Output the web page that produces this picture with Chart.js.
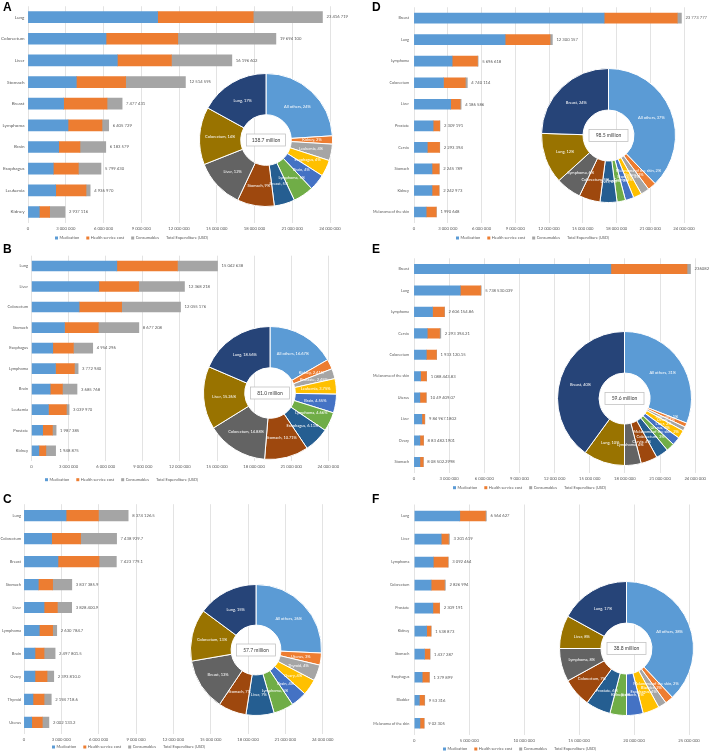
<!DOCTYPE html>
<html>
<head>
<meta charset="utf-8">
<script src="https://cdn.jsdelivr.net/npm/chart.js@4.4.1/dist/chart.umd.min.js"></script>
<style>
  body { margin: 0; background: #fff; }
  #page { position: relative; width: 709px; height: 752px; overflow: hidden; }
  #page canvas { position: absolute; }
  .tag { position: absolute; font: bold 12px 'Liberation Sans', Arial, sans-serif; color: #000; line-height: 12px; }
</style>
</head>
<body>
<div id="page"></div>
<script>
// values in million USD, bars listed top to bottom
const catA = ['Lung', 'Colorectum', 'Liver', 'Stomach', 'Breast', 'Lymphoma', 'Brain', 'Esophagus', 'Leukemia', 'Kidney'];
const medA = [10.3, 6.2, 7.1, 3.84, 2.83, 3.18, 2.44, 2.01, 2.2, 0.9];
const hsA  = [7.6, 5.7, 4.3, 3.92, 3.45, 2.7, 1.69, 1.99, 2.41, 0.82];
const conA = [5.5, 7.8, 4.8, 4.75, 1.2, 0.53, 2.05, 1.8, 0.33, 1.22];
const totA = ['23 416 719', '19 694 100', '16 196 602', '12 514 595', '7 477 431', '6 405 729', '6 183 579', '5 799 430', '4 936 970', '2 937 116'];
const pieA = [24, 2, 4, 4, 4, 5, 5, 9, 12, 14, 17];

const catB = ['Lung', 'Liver', 'Colorectum', 'Stomach', 'Esophagus', 'Lymphoma', 'Brain', 'Leukemia', 'Prostate', 'Kidney'];
const medB = [6.9, 5.44, 3.85, 2.67, 1.72, 1.94, 1.51, 1.37, 0.9, 0.6];
const hsB  = [4.9, 3.22, 3.44, 2.73, 1.67, 1.53, 0.99, 1.45, 0.79, 0.56];
const conB = [3.24, 3.71, 4.76, 3.28, 1.56, 0.3, 1.18, 0.22, 0.3, 0.79];
const totB = ['15 042 638', '12 368 218', '12 055 176', '8 677 208', '4 954 296', '3 772 940', '3 685 768', '3 039 970', '1 987 385', '1 948 875'];
const pieB = [16.67, 2.41, 2.45, 3.75, 4.55, 4.66, 6.11, 10.71, 14.88, 15.26, 18.56];

const catC = ['Lung', 'Colorectum', 'Breast', 'Stomach', 'Liver', 'Lymphoma', 'Brain', 'Ovary', 'Thyroid', 'Uterus'];
const medC = [3.38, 2.22, 2.73, 1.15, 1.61, 1.23, 0.88, 0.88, 0.72, 0.62];
const hsC  = [2.6, 2.33, 3.3, 1.15, 1.07, 1.07, 0.73, 0.97, 0.89, 0.85];
const conC = [2.39, 2.89, 1.39, 1.54, 1.15, 0.33, 0.89, 0.54, 0.58, 0.53];
const totC = ['8 374 126.5', '7 438 929.7', '7 423 779.1', '3 837 385.9', '3 828 400.9', '2 630 784.7', '2 497 801.5', '2 393 810.0', '2 194 718.6', '2 002 133.2'];
const pieC = [26, 3, 4, 4, 4, 5, 7, 7, 13, 13, 15];

const catD = ['Breast', 'Lung', 'Lymphoma', 'Colorectum', 'Liver', 'Prostate', 'Cervix', 'Stomach', 'Kidney', 'Melanoma of the skin'];
const medD = [16.9, 8.1, 3.39, 2.62, 3.26, 1.7, 1.18, 1.6, 1.6, 1.08];
const hsD  = [6.5, 3.99, 2.25, 1.94, 0.84, 0.58, 1.09, 0.63, 0.62, 0.89];
const conD = [0.37, 0.21, 0.06, 0.18, 0.09, 0.03, 0.02, 0.02, 0.02, 0.02];
const totD = ['23 773 777', '12 300 157', '5 696 618', '4 740 114', '4 186 586', '2 309 191', '2 293 394', '2 245 789', '2 242 973', '1 990 648'];
const pieD = [37, 2, 2, 2, 2, 2, 4, 5, 6, 12, 24];

const catE = ['Breast', 'Lung', 'Lymphoma', 'Cervix', 'Colorectum', 'Melanoma of the skin', 'Uterus', 'Liver', 'Ovary', 'Stomach'];
const medE = [16.8, 3.95, 1.58, 1.13, 1.05, 0.56, 0.5, 0.67, 0.5, 0.5];
const hsE  = [6.5, 1.73, 1.0, 1.05, 0.86, 0.5, 0.53, 0.23, 0.3, 0.28];
const conE = [0.3, 0.06, 0.03, 0.11, 0.02, 0.02, 0.02, 0.03, 0.02, 0.02];
const totE = ['23608287084', '5 738 530.039', '2 606 154.86', '2 293 394.21', '1 933 120.15', '1 088 443.83', '10 49 409.07', '9 84 967.1802', '8 83 482.1901', '8 08 502.2998'];
const pieE = [31, 1, 1, 2, 2, 2, 3, 4, 4, 10, 40];

const catF = ['Lung', 'Liver', 'Lymphoma', 'Colorectum', 'Prostate', 'Kidney', 'Stomach', 'Esophagus', 'Bladder', 'Melanoma of the skin'];
const medF = [4.14, 2.45, 1.73, 1.53, 1.69, 1.12, 0.93, 0.72, 0.46, 0.51];
const hsF  = [2.33, 0.66, 1.33, 1.21, 0.6, 0.39, 0.48, 0.63, 0.45, 0.37];
const conF = [0.09, 0.09, 0.03, 0.09, 0.02, 0.03, 0.03, 0.03, 0.04, 0.02];
const totF = ['6 564 627', '3 201 619', '3 092 464', '2 826 994', '2 309 191', '1 538 873', '1 437 287', '1 379 899', '9 53 316', '9 02 305'];
const pieF = [38, 2, 2, 4, 4, 4, 6, 7, 8, 8, 17];

const centreText = ['138.7 million', '81.0 million', '57.7 million', '98.5 million', '59.6 million', '38.8 million'];
const seriesNames = ['Medication', 'Health service cost', 'Consumables'];
const totalName = 'Total Expenditure (USD)';

const FONT = "Lato, 'Liberation Sans', sans-serif";
const TXT = '#595959';
const BAR_COLORS = ['#5B9BD5', '#ED7D31', '#A5A5A5'];
const PIE_COLORS = ['#5B9BD5', '#ED7D31', '#A5A5A5', '#FFC000', '#4472C4', '#70AD47',
                    '#255E91', '#9E480E', '#636363', '#997300', '#264478'];

Chart.defaults.font.family = FONT;

// geometry in page pixels: box [x, y, w, h], plot [left, right, top, bottom]
const panels = [
  { id: 'A', cats: catA, series: [medA, hsA, conA], tot: totA, pie: pieA, dec: 0, centre: centreText[0],
    box: [0, 0, 354, 245], plot: [28, 330, 6.2, 222.8], bar: 11, max: 24, step: 3, catSize: 4.6, catPad: 3.5,
    leg: [55, 238], ring: [266, 140, 66], tag: [3, 1] },
  { id: 'B', cats: catB, series: [medB, hsB, conB], tot: totB, pie: pieB, dec: 2, centre: centreText[1],
    box: [0, 245, 354, 247], plot: [31.5, 328.3, 255.7, 461], bar: 10, max: 24, step: 3, catSize: 4, catPad: 3.5,
    leg: [45, 479.7], ring: [269.5, 392.5, 66], tag: [3, 243] },
  { id: 'C', cats: catC, series: [medC, hsC, conC], tot: totC, pie: pieC, dec: 0, centre: centreText[2],
    box: [0, 492, 354, 260], plot: [24, 322.7, 504.2, 733.8], bar: 10.5, max: 24, step: 3, catSize: 4, catPad: 3,
    leg: [52, 747], ring: [256, 650, 65], tag: [3, 493] },
  { id: 'D', cats: catD, series: [medD, hsD, conD], tot: totD, pie: pieD, dec: 0, centre: centreText[3],
    box: [354, 0, 355, 245], plot: [414, 684, 6.5, 222.8], bar: 10, max: 24, step: 3, catSize: 3.8, catPad: 5,
    leg: [456, 238], ring: [608.3, 135.5, 66.7], tag: [372, 1] },
  { id: 'E', cats: catE, series: [medE, hsE, conE], tot: totE, pie: pieE, dec: 0, centre: centreText[4],
    box: [354, 245, 355, 247], plot: [414, 700.7, 258.3, 472.7], bar: 9.5, max: 24, step: 3, catSize: 3.8, catPad: 5,
    leg: [453, 487.7], ring: [624.3, 398.3, 66.5], tag: [372, 243] },
  { id: 'F', cats: catF, series: [medF, hsF, conF], tot: totF, pie: pieF, dec: 0, centre: centreText[5],
    box: [354, 492, 355, 260], plot: [414.3, 689, 504.5, 734.8], bar: 10, max: 25, step: 5, catSize: 3.8, catPad: 5,
    leg: [443, 749], ring: [626.3, 647.8, 66.3], tag: [372, 493] }
];

const page = document.getElementById('page');

function addCanvas(x, y, w, h) {
  const c = document.createElement('canvas');
  c.width = Math.round(w);
  c.height = Math.round(h);
  c.style.left = Math.round(x) + 'px';
  c.style.top = Math.round(y) + 'px';
  page.appendChild(c);
  return c;
}

function fmt(n) {
  return Math.round(n).toLocaleString('en-US').replace(/,/g, ' ');
}

function makeBar(p) {
  const [bx, by, bw, bh] = p.box;
  const [pl, pr, pt, pb] = p.plot;
  const xH = 10;
  const canvas = addCanvas(bx, by, bw, bh);

  const totalsPlugin = {
    id: 'totals',
    afterDatasetsDraw(chart) {
      const ctx = chart.ctx;
      const meta = chart.getDatasetMeta(2);
      ctx.save();
      ctx.font = `4.2px ${FONT}`;
      ctx.fillStyle = TXT;
      ctx.textBaseline = 'middle';
      meta.data.forEach((el, i) => ctx.fillText(p.tot[i], el.x + 4, el.y));
      ctx.restore();
    }
  };

  const legendPlugin = {
    id: 'legendRow',
    afterDraw(chart) {
      const ctx = chart.ctx;
      let x = p.leg[0] - bx;
      const y = p.leg[1] - by;
      ctx.save();
      ctx.font = `4px ${FONT}`;
      ctx.textBaseline = 'middle';
      seriesNames.concat([totalName]).forEach((name, i) => {
        if (i < 3) {
          ctx.fillStyle = BAR_COLORS[i];
          ctx.fillRect(x, y - 1.5, 3, 3);
          x += 4.5;
        }
        ctx.fillStyle = TXT;
        ctx.fillText(name, x, y);
        x += ctx.measureText(name).width + 7;
      });
      ctx.restore();
    }
  };

  return new Chart(canvas.getContext('2d'), {
    type: 'bar',
    data: {
      labels: p.cats,
      datasets: p.series.map((d, i) => ({
        label: seriesNames[i],
        data: d,
        backgroundColor: BAR_COLORS[i],
        borderWidth: 0,
        barThickness: p.bar
      }))
    },
    options: {
      indexAxis: 'y',
      responsive: false,
      animation: false,
      layout: { padding: { left: 0, right: bw - (pr - bx), top: pt - by, bottom: bh - (pb - by) - xH } },
      plugins: { legend: { display: false }, tooltip: { enabled: false } },
      scales: {
        x: {
          stacked: true, min: 0, max: p.max,
          grid: { color: '#D9D9D9', lineWidth: 0.75, drawTicks: false },
          border: { display: false },
          ticks: {
            stepSize: p.step, autoSkip: false, maxRotation: 0, padding: 3,
            color: TXT, font: { size: 4.2 },
            callback: v => fmt(v * 1e6)
          },
          afterFit: s => { s.height = xH; }
        },
        y: {
          stacked: true,
          grid: { display: false, drawTicks: false },
          border: { display: false },
          ticks: { color: TXT, font: { size: p.catSize }, padding: p.catPad, autoSkip: false },
          afterFit: s => { s.width = pl - bx; }
        }
      }
    },
    plugins: [totalsPlugin, legendPlugin]
  });
}

function makeRing(p) {
  const [cx, cy, r] = p.ring;
  const size = 2 * r + 2;
  const canvas = addCanvas(cx - size / 2, cy - size / 2, size, size);
  const labels = ['All others'].concat(p.cats.slice().reverse());

  const sliceLabels = {
    id: 'sliceLabels',
    afterDatasetsDraw(chart) {
      const ctx = chart.ctx;
      const meta = chart.getDatasetMeta(0);
      ctx.save();
      ctx.font = `4px ${FONT}`;
      ctx.fillStyle = '#fff';
      ctx.textAlign = 'center';
      ctx.textBaseline = 'middle';
      meta.data.forEach((arc, i) => {
        const pos = arc.tooltipPosition();
        ctx.fillText(`${labels[i]}, ${p.pie[i].toFixed(p.dec)}%`, pos.x, pos.y);
      });
      ctx.restore();
    }
  };

  const centreBox = {
    id: 'centreBox',
    afterDraw(chart) {
      const ctx = chart.ctx;
      const a = chart.chartArea;
      const mx = (a.left + a.right) / 2, my = (a.top + a.bottom) / 2;
      const w = 39, h = 12;
      ctx.save();
      ctx.fillStyle = '#fff';
      ctx.fillRect(mx - w / 2, my - h / 2, w, h);
      ctx.strokeStyle = '#BFBFBF';
      ctx.lineWidth = 0.75;
      ctx.strokeRect(mx - w / 2, my - h / 2, w, h);
      ctx.fillStyle = '#404040';
      ctx.font = `5px ${FONT}`;
      ctx.textAlign = 'center';
      ctx.textBaseline = 'middle';
      ctx.fillText(p.centre, mx, my);
      ctx.restore();
    }
  };

  return new Chart(canvas.getContext('2d'), {
    type: 'doughnut',
    data: {
      labels: labels,
      datasets: [{ data: p.pie, backgroundColor: PIE_COLORS, borderColor: '#fff', borderWidth: 1 }]
    },
    options: {
      responsive: false,
      animation: false,
      cutout: '38%',
      layout: { padding: 0 },
      plugins: { legend: { display: false }, tooltip: { enabled: false } }
    },
    plugins: [sliceLabels, centreBox]
  });
}

panels.forEach(p => {
  makeBar(p);
  makeRing(p);
  const tag = document.createElement('div');
  tag.className = 'tag';
  tag.textContent = p.id;
  tag.style.left = p.tag[0] + 'px';
  tag.style.top = p.tag[1] + 'px';
  page.appendChild(tag);
});
</script>
</body>
</html>
